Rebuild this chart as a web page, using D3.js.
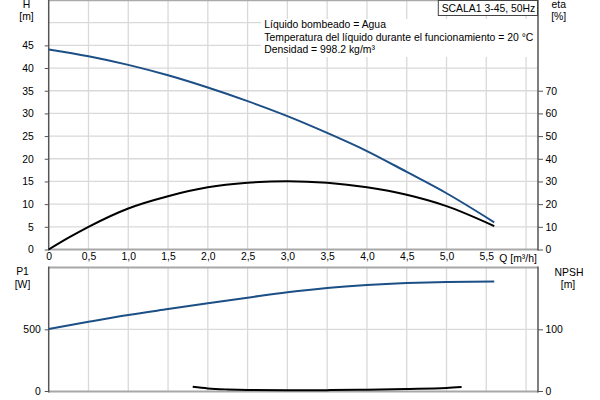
<!DOCTYPE html>
<html><head><meta charset="utf-8">
<script src="https://cdn.jsdelivr.net/npm/d3@7"></script>
<style>
html,body{margin:0;padding:0;background:#fff;}
svg{display:block;font-family:"Liberation Sans",Arial,sans-serif;}
</style></head>
<body><svg id="c" width="600" height="400"></svg>
<script>
// ---- data ----
const qH    = [0, 0.5, 1.0, 1.5, 2.0, 2.5, 3.0, 3.5, 4.0, 4.5, 5.0, 5.6];
const head  = [44.1, 42.6, 40.7, 38.4, 35.7, 32.7, 29.4, 25.7, 21.7, 17.1, 12.4, 6.0];
const qEta  = [0, 0.25, 0.5, 1.0, 1.5, 2.0, 2.5, 3.0, 3.5, 4.0, 4.5, 5.0, 5.6];
const eta   = [0, 5.2, 10.0, 18.1, 23.5, 27.4, 29.4, 30.1, 29.4, 27.4, 24.1, 19.1, 10.3];
const qP1   = [0, 0.5, 1.0, 1.5, 2.0, 2.5, 3.0, 3.5, 4.0, 4.5, 5.0, 5.6];
const p1    = [503, 561, 616, 664, 711, 756, 800, 835, 859, 875, 884, 887];
const qNpsh = [1.81, 2.0, 2.25, 2.5, 3.0, 3.5, 4.0, 4.5, 5.0, 5.19];
const npsh  = [6.8, 4.2, 2.5, 1.6, 1.2, 1.4, 2.2, 3.3, 4.8, 6.3];
const qTicks    = [0, 0.5, 1.0, 1.5, 2.0, 2.5, 3.0, 3.5, 4.0, 4.5, 5.0, 5.5];
const qGrid     = [0.5, 1.0, 1.5, 2.0, 2.5, 3.0, 3.5, 4.0, 4.5, 5.0, 5.5, 6.0];
const hTicks    = [0, 5, 10, 15, 20, 25, 30, 35, 40, 45];
const hGrid     = [5, 10, 15, 20, 25, 30, 35, 40, 45, 50];
const etaTicks  = [0, 10, 20, 30, 40, 50, 60, 70];
const p1Ticks   = [0, 500];
const npshTicks = [0, 100];
const infoLines = ["Líquido bombeado = Agua",
  "Temperatura del líquido durante el funcionamiento = 20 °C",
  "Densidad = 998.2 kg/m³"];
const title = "SCALA1 3-45, 50Hz";

const svg = d3.select("#c");
const blue = "#1b4f86", black = "#000";
const gridC = "#d9d9d9";
const fs = "10.4px";

const x = d3.scaleLinear().domain([0, 6.15]).range([48.7, 538]);
const yH = d3.scaleLinear().domain([0, 55]).range([249.5, 0]);
const yEta = d3.scaleLinear().domain([0, 110]).range([249.5, 0]);
const yP = d3.scaleLinear().domain([0, 1000]).range([391, 267.6]);
const yN = d3.scaleLinear().domain([0, 200]).range([391, 267.6]);
const fmtQ = d => d === 0 ? "0" : d3.format(".1f")(d).replace(".", ",");

function grid(g, yScale, yVals, top, bottom) {
  g.selectAll("line.v").data(qGrid).join("line")
    .attr("x1", d => x(d)).attr("x2", d => x(d))
    .attr("y1", top).attr("y2", bottom)
    .attr("stroke", gridC).attr("stroke-width", 1.3);
  g.selectAll("line.h").data(yVals).join("line").attr("class","h")
    .attr("x1", x(0)).attr("x2", x.range()[1])
    .attr("y1", d => yScale(d)).attr("y2", d => yScale(d))
    .attr("stroke", gridC).attr("stroke-width", 1.3);
}
// ---- top panel ----
const gt = svg.append("g");
grid(gt, yH, hGrid, yH(55), yH(0));
gt.append("line").attr("x1", x(0)).attr("x2", x.range()[1]).attr("y1", 0.5).attr("y2", 0.5).attr("stroke", "#aaa").attr("stroke-width", 1.3);

// info box
gt.append("rect").attr("x", 261).attr("y", 19).attr("width", 276).attr("height", 38).attr("fill", "#fff");
gt.selectAll("text.info").data(infoLines).join("text").attr("class","info")
  .attr("x", 264.3).attr("y", (d,i) => 28.3 + i*12.5).attr("font-size", fs).attr("fill", "#000").text(d => d);

// axes top
const axL = d3.axisLeft(yH).tickValues(hTicks).tickSize(4).tickPadding(11).tickFormat(d3.format("d"));
const gL = gt.append("g").attr("transform", `translate(${x(0)},0)`).call(axL);
const axR = d3.axisRight(yEta).tickValues(etaTicks).tickSize(5).tickPadding(2.5).tickFormat(d3.format("d"));
const gR = gt.append("g").attr("transform", `translate(${x.range()[1]},0)`).call(axR);
const axB = d3.axisBottom(x).tickValues(qTicks).tickSize(0).tickPadding(3).tickFormat(fmtQ);
const gB = gt.append("g").attr("transform", `translate(0,${yH(0)})`).call(axB);
[gL, gR, gB].forEach(g => { g.selectAll("text").attr("font-size", fs).attr("font-family", "Liberation Sans, Arial, sans-serif").attr("fill", "#000"); g.selectAll(".tick line").attr("stroke", "#555"); });
gL.select(".domain").remove(); gR.select(".domain").remove(); gB.select(".domain").remove();
gt.append("line").attr("x1", x(0)).attr("x2", x.range()[1]).attr("y1", yH(0)).attr("y2", yH(0)).attr("stroke", "#a8a8a8").attr("stroke-width", 2);
gt.append("line").attr("x1", x(0)).attr("x2", x(0)).attr("y1", 0).attr("y2", yH(0)+1).attr("stroke", "#555").attr("stroke-width", 1.5);
gt.append("line").attr("x1", x.range()[1]).attr("x2", x.range()[1]).attr("y1", 0).attr("y2", yH(0)+1).attr("stroke", "#555").attr("stroke-width", 1.5);

gt.append("text").attr("x", 499.3).attr("y", 262).attr("font-size", fs).text("Q [m³/h]");
gt.append("text").attr("x", 26.5).attr("y", 7.5).attr("text-anchor","middle").attr("font-size", fs).text("H");
gt.append("text").attr("x", 26.5).attr("y", 19.5).attr("text-anchor","middle").attr("font-size", fs).text("[m]");
gt.append("text").attr("x", 558.7).attr("y", 8.3).attr("text-anchor","middle").attr("font-size", fs).text("eta");
gt.append("text").attr("x", 558.7).attr("y", 19.5).attr("text-anchor","middle").attr("font-size", fs).text("[%]");

// title box
gt.append("rect").attr("x", 438.3).attr("y", 0.5).attr("width", 99.2).attr("height", 15).attr("fill", "#fff").attr("stroke", "#444").attr("stroke-width", 1);
gt.append("text").attr("x", 441.7).attr("y", 11.8).attr("font-size", fs).text(title);

// curves top
const line = (xs, ys, yScale) => d3.line().x((d,i) => x(xs[i])).y(d => yScale(d)).curve(d3.curveMonotoneX)(ys);
gt.append("path").attr("d", line(qH, head, yH)).attr("fill","none").attr("stroke", blue).attr("stroke-width", 2);
gt.append("path").attr("d", line(qEta, eta, yEta)).attr("fill","none").attr("stroke", black).attr("stroke-width", 2);

// ---- bottom panel ----
const gb = svg.append("g");
grid(gb, yP, [500], yP(1000), yP(0));
gb.append("line").attr("x1", x(0)).attr("x2", x.range()[1]).attr("y1", yP(1000)).attr("y2", yP(1000)).attr("stroke", "#a8a8a8").attr("stroke-width", 2);
const axPL = d3.axisLeft(yP).tickValues(p1Ticks).tickSize(4).tickPadding(4).tickFormat(d3.format("d"));
const gPL = gb.append("g").attr("transform", `translate(${x(0)},0)`).call(axPL);
const axNR = d3.axisRight(yN).tickValues(npshTicks).tickSize(5).tickPadding(2.5).tickFormat(d3.format("d"));
const gNR = gb.append("g").attr("transform", `translate(${x.range()[1]},0)`).call(axNR);
[gPL, gNR].forEach(g => { g.selectAll("text").attr("font-size", fs).attr("font-family", "Liberation Sans, Arial, sans-serif").attr("fill", "#000"); g.selectAll(".tick line").attr("stroke", "#555"); g.select(".domain").remove(); });
gb.append("line").attr("x1", x(0)).attr("x2", x.range()[1]).attr("y1", yP(0)+0.5).attr("y2", yP(0)+0.5).attr("stroke", "#a8a8a8").attr("stroke-width", 2);
gb.append("line").attr("x1", x(0)).attr("x2", x(0)).attr("y1", yP(1000)-1).attr("y2", yP(0)+1.5).attr("stroke", "#555").attr("stroke-width", 1.5);
gb.append("line").attr("x1", x.range()[1]).attr("x2", x.range()[1]).attr("y1", yP(1000)-1).attr("y2", yP(0)+1.5).attr("stroke", "#555").attr("stroke-width", 1.5);
gb.append("text").attr("x", 22.5).attr("y", 275).attr("text-anchor","middle").attr("font-size", fs).text("P1");
gb.append("text").attr("x", 22.5).attr("y", 288).attr("text-anchor","middle").attr("font-size", fs).text("[W]");
gb.append("text").attr("x", 569).attr("y", 276).attr("text-anchor","middle").attr("font-size", fs).text("NPSH");
gb.append("text").attr("x", 568).attr("y", 288).attr("text-anchor","middle").attr("font-size", fs).text("[m]");

gb.append("path").attr("d", line(qP1, p1, yP)).attr("fill","none").attr("stroke", blue).attr("stroke-width", 2);
gb.append("path").attr("d", line(qNpsh, npsh, yN)).attr("fill","none").attr("stroke", black).attr("stroke-width", 2);
</script></body></html>
